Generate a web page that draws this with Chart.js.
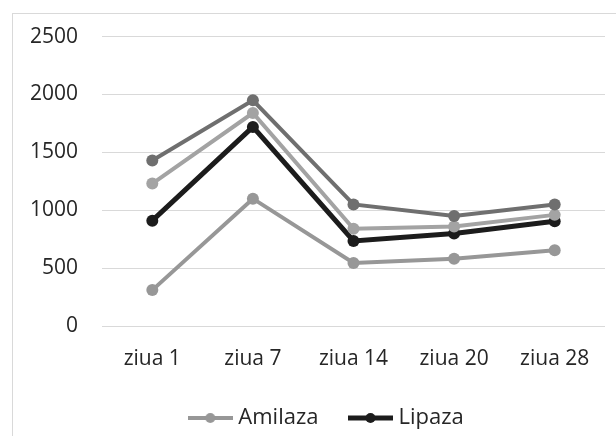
<!DOCTYPE html>
<html>
<head>
<meta charset="utf-8">
<script src="https://cdn.jsdelivr.net/npm/chart.js@4"></script>
<style>
  body { margin: 0; background: #fff; }
  #frame { position: absolute; left: 12px; top: 13px; width: 620px; height: 440px; border: 1px solid #d9d9d9; }
  #wrap { position: absolute; left: 0; top: 0; width: 616px; height: 436px; }
</style>
</head>
<body>
<div id="frame"></div>
<div id="wrap"><canvas id="grafico"></canvas></div>
<script>
const zile = ["ziua 1", "ziua 7", "ziua 14", "ziua 20", "ziua 28"]
const amilaza = [310, 1100, 545, 580, 655]
const lipaza = [910, 1720, 735, 800, 905]
const serie3 = [1430, 1950, 1050, 950, 1050]
const serie4 = [1230, 1840, 840, 860, 960]
const valoriAx = [0, 500, 1000, 1500, 2000, 2500]

// simbol legenda: linie cu punct
const simbol = (culoare, gros) => {
    const c = document.createElement("canvas")
    c.width = 45
    c.height = 12
    const ctx = c.getContext("2d")
    ctx.strokeStyle = culoare
    ctx.lineWidth = gros
    ctx.beginPath()
    ctx.moveTo(0, 6)
    ctx.lineTo(45, 6)
    ctx.stroke()
    ctx.fillStyle = culoare
    ctx.beginPath()
    ctx.arc(22.5, 6, 5, 0, Math.PI * 2)
    ctx.fill()
    return c
}

const linie = (label, data, culoare, gros) => ({
    label: label,
    data: data,
    borderColor: culoare,
    backgroundColor: culoare,
    borderWidth: gros,
    pointRadius: 6,
    pointHoverRadius: 6,
    pointBorderWidth: 0,
    pointStyle: "circle",
    tension: 0
})

const font = { family: "'Open Sans', sans-serif", size: 21 }

// muta legenda putin spre dreapta si in jos, ca in original
const mutaLegenda = {
    id: "mutaLegenda",
    afterLayout(chart) {
        const lg = chart.legend
        lg.left += 20
        lg.right += 20
        lg.top += 3
        lg.bottom += 3
    }
}

new Chart(document.getElementById("grafico"), {
    type: "line",
    data: {
        labels: zile,
        datasets: [
            linie("Serie 3", serie3, "#6f6f6f", 4),
            linie("Serie 4", serie4, "#a3a3a3", 4),
            linie("Amilaza", amilaza, "#979797", 4),
            linie("Lipaza", lipaza, "#1c1c1c", 5)
        ]
    },
    plugins: [mutaLegenda],
    options: {
        responsive: true,
        maintainAspectRatio: false,
        animation: false,
        layout: { padding: { left: 12, right: 11, top: 36, bottom: 0 } },
        plugins: {
            tooltip: { enabled: false },
            legend: {
                position: "bottom",
                labels: {
                    usePointStyle: true,
                    pointStyleWidth: 34,
                    padding: 35,
                    color: "#262626",
                    font: { family: "'Open Sans', sans-serif", size: 22 },
                    filter: (item) => item.text === "Amilaza" || item.text === "Lipaza",
                    generateLabels: (chart) => {
                        const items = Chart.defaults.plugins.legend.labels.generateLabels(chart)
                        items.forEach(it => {
                            const ds = chart.data.datasets[it.datasetIndex]
                            it.pointStyle = simbol(ds.borderColor, ds.borderWidth)
                        })
                        return items
                    }
                }
            }
        },
        scales: {
            x: {
                offset: true,
                grid: { display: false, drawTicks: false },
                border: { display: false },
                ticks: { color: "#262626", font: font, padding: 20 },
                afterFit: (scale) => { scale.height = 43 }
            },
            y: {
                min: 0,
                max: 2500,
                afterBuildTicks: (scale) => { scale.ticks = valoriAx.map(v => ({ value: v })) },
                grid: { color: "#d9d9d9", lineWidth: 1, drawTicks: false },
                border: { display: false },
                ticks: { color: "#262626", font: font, padding: 24, callback: (v) => String(v) },
                afterFit: (scale) => { scale.width = 90 }
            }
        }
    }
})
</script>
</body>
</html>
